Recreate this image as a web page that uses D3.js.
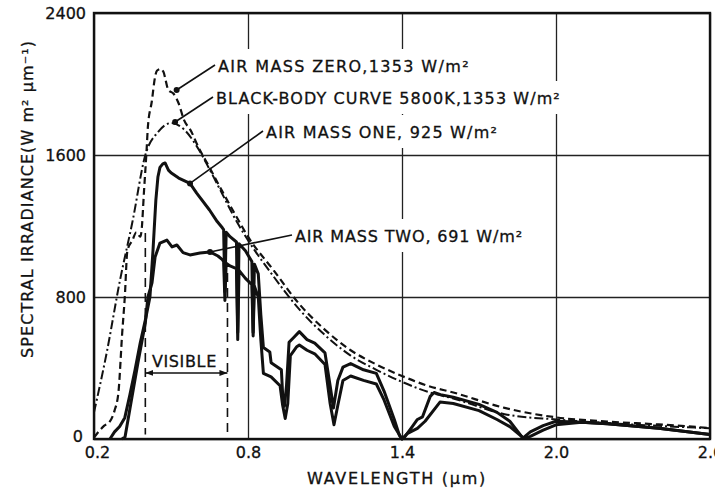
<!DOCTYPE html>
<html>
<head>
<meta charset="utf-8">
<script src="https://cdn.jsdelivr.net/npm/d3@7"></script>
<style>
  body { margin: 0; background: #fff; }
  svg text { font-family: "DejaVu Sans", sans-serif; fill: #111; }
</style>
</head>
<body>
<div id="chart"></div>
<script>
'use strict';

// wavelength in µm, spectral irradiance in W m^-2 µm^-1
const xTicks = [0.2, 0.8, 1.4, 2.0, 2.6];
const yTicks = [0, 800, 1600, 2400];

const bbWave = [0.20, 0.25, 0.30, 0.35, 0.40, 0.45, 0.50, 0.55, 0.60, 0.65, 0.70, 0.75, 0.80, 0.90, 1.00,
    1.10, 1.20, 1.30, 1.40, 1.50, 1.60, 1.80, 2.00, 2.20, 2.40, 2.60];
const bbIrr = [150, 490, 885, 1225, 1600, 1730, 1780, 1745, 1650, 1520, 1380, 1240, 1120, 915, 730,
    585, 470, 390, 322, 266, 228, 140, 110, 90, 74, 60];

const am0Wave = [0.20, 0.22, 0.24, 0.26, 0.28, 0.295, 0.31, 0.32, 0.33, 0.35, 0.365, 0.38, 0.385, 0.395,
    0.405, 0.41, 0.425, 0.438, 0.445, 0.46, 0.47, 0.49, 0.51, 0.53, 0.55, 0.58, 0.60, 0.65, 0.70, 0.75,
    0.80, 0.90, 1.00, 1.10, 1.20, 1.30, 1.40, 1.50, 1.60, 1.80, 2.00, 2.20, 2.40, 2.60];
const am0Irr = [8, 45, 75, 95, 160, 260, 600, 800, 1060, 1120, 1165, 1140, 1170, 1400,
    1630, 1760, 1900, 2040, 2075, 2085, 2070, 1965, 1945, 1890, 1800, 1730, 1665, 1530, 1395, 1265,
    1140, 950, 760, 615, 500, 420, 355, 300, 262, 175, 122, 98, 82, 62];

const am1Wave = [0.262, 0.28, 0.30, 0.32, 0.34, 0.36, 0.38, 0.40, 0.418, 0.43, 0.441, 0.449, 0.457, 0.468,
    0.477, 0.49, 0.50, 0.53, 0.574, 0.60, 0.65, 0.68, 0.70, 0.705, 0.71, 0.715, 0.73, 0.755, 0.76, 0.765,
    0.79, 0.815, 0.82, 0.825, 0.84, 0.85, 0.86, 0.885, 0.89, 0.93, 0.935, 0.942, 0.95, 0.96, 0.98, 1.00,
    1.03, 1.06, 1.10, 1.12, 1.133, 1.15, 1.17, 1.20, 1.25, 1.30, 1.33, 1.37, 1.39, 1.40, 1.41, 1.44,
    1.46, 1.48, 1.51, 1.525, 1.55, 1.60, 1.70, 1.77, 1.82, 1.871, 1.90, 1.95, 2.00, 2.10, 2.20, 2.40, 2.60];
const am1Irr = [0, 40, 70, 120, 250, 390, 540, 670, 800, 1065, 1346, 1476, 1530, 1550,
    1555, 1515, 1500, 1470, 1440, 1385, 1290, 1225, 1190, 1180, 830, 1165, 1140, 1110, 600, 1100,
    1060, 1000, 600, 985, 930, 700, 515, 490, 430, 390, 250, 185, 300, 545, 575, 605,
    560, 540, 485, 300, 175, 330, 405, 425, 390, 370, 270, 110, 20, 0, 10, 70,
    110, 125, 240, 262, 250, 235, 195, 150, 100, 5, 40, 75, 100, 95, 86, 60, 25];

const am2Wave = [0.309, 0.321, 0.34, 0.371, 0.40, 0.41, 0.426, 0.438, 0.457, 0.484, 0.504, 0.523, 0.547,
    0.574, 0.613, 0.652, 0.683, 0.70, 0.705, 0.71, 0.715, 0.73, 0.755, 0.76, 0.765, 0.79, 0.815, 0.82,
    0.825, 0.84, 0.85, 0.86, 0.89, 0.925, 0.935, 0.945, 0.955, 0.965, 0.99, 1.00, 1.03, 1.06, 1.10, 1.12,
    1.135, 1.15, 1.17, 1.20, 1.25, 1.30, 1.33, 1.37, 1.40, 1.42, 1.46, 1.49, 1.548, 1.60, 1.70, 1.77,
    1.82, 1.875, 1.90, 1.95, 2.00, 2.10, 2.20, 2.40, 2.60];
const am2Irr = [0, 12, 170, 428, 654, 800, 880, 1025, 1104, 1121, 1082, 1093, 1050,
    1037, 1048, 1054, 1031, 1010, 1000, 780, 990, 975, 960, 560, 950, 905, 870, 580,
    860, 800, 560, 370, 350, 300, 190, 115, 200, 470, 520, 530, 500, 480, 420, 200,
    80, 190, 330, 355, 330, 310, 220, 70, 0, 30, 60, 100, 208, 200, 160, 110,
    70, 3, 15, 50, 80, 95, 86, 60, 25];

const noteLabels = [
    'AIR MASS ZERO,1353 W/m²',
    'BLACK-BODY CURVE 5800K,1353 W/m²',
    'AIR MASS ONE, 925 W/m²',
    'AIR MASS TWO, 691 W/m²'
];
// point on each curve where the leader line ends
const noteWave = [0.522, 0.516, 0.574, 0.652];
const noteIrr = [1966, 1786, 1440, 1054];

const visibleBand = [0.4, 0.72];
const visibleTop = [1160, 935];
const visibleBottom = 25;
const visibleArrow = 372;

class SpectrumChart {

    constructor(args) {
        const margin = {top: 13, right: 5, bottom: 50, left: 94};
        const width = 715, height = 489;

        this.selector = args.selector || '#chart';
        this.margin = args.margin || margin;
        this.fullWidth = width;
        this.fullHeight = height;
        this.width = width - this.margin.left - this.margin.right;
        this.height = height - this.margin.top - this.margin.bottom;
        this.element = document.querySelector(this.selector);
        this.series = args.series;
    }

    draw() {
        this.element.innerHTML = '';

        const svg = d3.select(this.element).append('svg')
            .attr('width', this.fullWidth)
            .attr('height', this.fullHeight);
        this.svg = svg;

        const defs = svg.append('defs');
        defs.append('marker')
            .attr('id', 'arrow')
            .attr('viewBox', '0 0 8 6')
            .attr('refX', 8).attr('refY', 3)
            .attr('markerWidth', 8).attr('markerHeight', 6)
            .attr('markerUnits', 'userSpaceOnUse')
            .attr('orient', 'auto-start-reverse')
            .append('path')
            .attr('d', 'M0,0L8,3L0,6Z')
            .attr('fill', '#111');

        this.plot = svg.append('g')
            .attr('transform', `translate(${this.margin.left},${this.margin.top})`);

        this.x = d3.scaleLinear().domain([0.2, 2.6]).range([0, this.width]);
        this.y = d3.scaleLinear().domain([0, 2400]).range([this.height, 0]);

        // labels sit above the grid (white boxes break the grid lines) but below the curves
        this.createAxes();
        this.createNotes();
        this.createCurves();
        this.createVisible();
        this.createTitles();
    }

    // spread letters so a label fills the width it has in the original
    fitWidth(text, target) {
        const n = text.text().length;
        const len = text.node().getComputedTextLength();
        text.attr('letter-spacing', ((target - len) / n).toFixed(2));
    }

    createAxes() {
        let _this = this;

        const styleAxis = g => {
            g.select('.domain').remove();
            g.attr('font-family', null).attr('font-size', 16);
            g.selectAll('.tick line').attr('stroke', '#222').attr('stroke-width', 1.3);
            g.selectAll('.tick text').attr('fill', '#111')
                .attr('stroke', '#111').attr('stroke-width', 0.3);
        };

        _this.plot.append('g')
            .attr('transform', `translate(0,${_this.height})`)
            .call(d3.axisBottom(_this.x)
                .tickValues(xTicks)
                .tickSize(-_this.height)
                .tickPadding(8)
                .tickFormat(d3.format('.1f')))
            .call(styleAxis)
            .call(g => g.selectAll('.tick text').filter(d => d === xTicks[0]).attr('dx', 3));

        _this.plot.append('g')
            .call(d3.axisLeft(_this.y)
                .tickValues(yTicks)
                .tickSize(-_this.width)
                .tickPadding(8)
                .tickFormat(d3.format('d')))
            .call(styleAxis)
            .call(g => g.selectAll('.tick text').filter(d => d === yTicks[0]).attr('dx', -3).attr('dy', '0.15em'));

        _this.plot.append('rect')
            .attr('width', _this.width)
            .attr('height', _this.height)
            .attr('fill', 'none')
            .attr('stroke', '#111')
            .attr('stroke-width', 2.4);
    }

    createNotes() {
        let _this = this;
        const layout = [
            {x: 218, y: 72, w: 252},
            {x: 216, y: 104, w: 345},
            {x: 266, y: 138, w: 232},
            {x: 295, y: 242, w: 228}
        ];
        const g = _this.plot.append('g')
            .attr('transform', `translate(${-_this.margin.left},${-_this.margin.top})`)
            .attr('font-size', 16);

        noteLabels.forEach((label, i) => {
            const box = g.append('rect').attr('fill', '#fff');
            const t = g.append('text')
                .attr('x', layout[i].x)
                .attr('y', layout[i].y)
                .attr('stroke', '#111')
                .attr('stroke-width', 0.3)
                .text(label);
            _this.fitWidth(t, layout[i].w);
            const b = t.node().getBBox();
            box.attr('x', b.x - 6).attr('y', b.y - 8)
                .attr('width', b.width + 12).attr('height', b.height + 14);
        });

        this.noteLayout = layout;
    }

    createCurves() {
        let _this = this;

        const line = d3.line()
            .x(d => _this.x(d[0]))
            .y(d => _this.y(d[1]));

        _this.series.forEach(s => {
            _this.plot.append('path')
                .datum(d3.zip(s.wave, s.irr))
                .attr('fill', 'none')
                .attr('stroke', '#111')
                .attr('stroke-width', s.width)
                .attr('stroke-dasharray', s.dash)
                .attr('stroke-linejoin', 'round')
                .attr('d', line.curve(s.smooth ? d3.curveMonotoneX : d3.curveLinear));
        });

        // leader lines from the labels to their curves
        const leaders = _this.plot.append('g');
        noteWave.forEach((w, i) => {
            const px = _this.x(w), py = _this.y(noteIrr[i]);
            const l = _this.noteLayout[i];
            leaders.append('line')
                .attr('x1', px).attr('y1', py)
                .attr('x2', l.x - 3 - _this.margin.left)
                .attr('y2', l.y - 7 - _this.margin.top)
                .attr('stroke', '#111')
                .attr('stroke-width', 1.6);
            leaders.append('circle')
                .attr('cx', px).attr('cy', py)
                .attr('r', 3)
                .attr('fill', '#111');
        });
    }

    createVisible() {
        let _this = this;
        const g = _this.plot.append('g');

        visibleBand.forEach((w, i) => {
            g.append('line')
                .attr('x1', _this.x(w)).attr('x2', _this.x(w))
                .attr('y1', _this.y(visibleTop[i]))
                .attr('y2', _this.y(visibleBottom))
                .attr('stroke', '#111')
                .attr('stroke-width', 1.6)
                .attr('stroke-dasharray', '9,6');
        });

        g.append('line')
            .attr('x1', _this.x(visibleBand[0])).attr('x2', _this.x(visibleBand[1]))
            .attr('y1', _this.y(visibleArrow)).attr('y2', _this.y(visibleArrow))
            .attr('stroke', '#111')
            .attr('stroke-width', 1.6)
            .attr('marker-start', 'url(#arrow)')
            .attr('marker-end', 'url(#arrow)');

        const t = g.append('text')
            .attr('x', (_this.x(visibleBand[0]) + _this.x(visibleBand[1])) / 2 - 2)
            .attr('y', _this.y(visibleArrow) - 6)
            .attr('text-anchor', 'middle')
            .attr('font-size', 16)
            .attr('stroke', '#111')
            .attr('stroke-width', 0.3)
            .text('VISIBLE');
        _this.fitWidth(t, 65);
    }

    createTitles() {
        let _this = this;

        const xt = _this.svg.append('text')
            .attr('x', 397)
            .attr('y', 484)
            .attr('text-anchor', 'middle')
            .attr('font-size', 16)
            .attr('stroke', '#111')
            .attr('stroke-width', 0.3)
            .text('WAVELENGTH (μm)');
        _this.fitWidth(xt, 180);

        const yt = _this.svg.append('text')
            .attr('transform', 'translate(33,199) rotate(-90)')
            .attr('text-anchor', 'middle')
            .attr('font-size', 16)
            .attr('stroke', '#111')
            .attr('stroke-width', 0.3)
            .text('SPECTRAL IRRADIANCE(W m² μm⁻¹)');
        _this.fitWidth(yt, 318);
    }
}

const chart = new SpectrumChart({
    selector: '#chart',
    series: [
        {wave: am0Wave, irr: am0Irr, width: 2.2, dash: '7,4', smooth: true},
        {wave: bbWave, irr: bbIrr, width: 2, dash: '9,3,2,3', smooth: true},
        {wave: am1Wave, irr: am1Irr, width: 3, dash: null, smooth: false},
        {wave: am2Wave, irr: am2Irr, width: 3, dash: null, smooth: false}
    ]
});
chart.draw();
</script>
</body>
</html>
